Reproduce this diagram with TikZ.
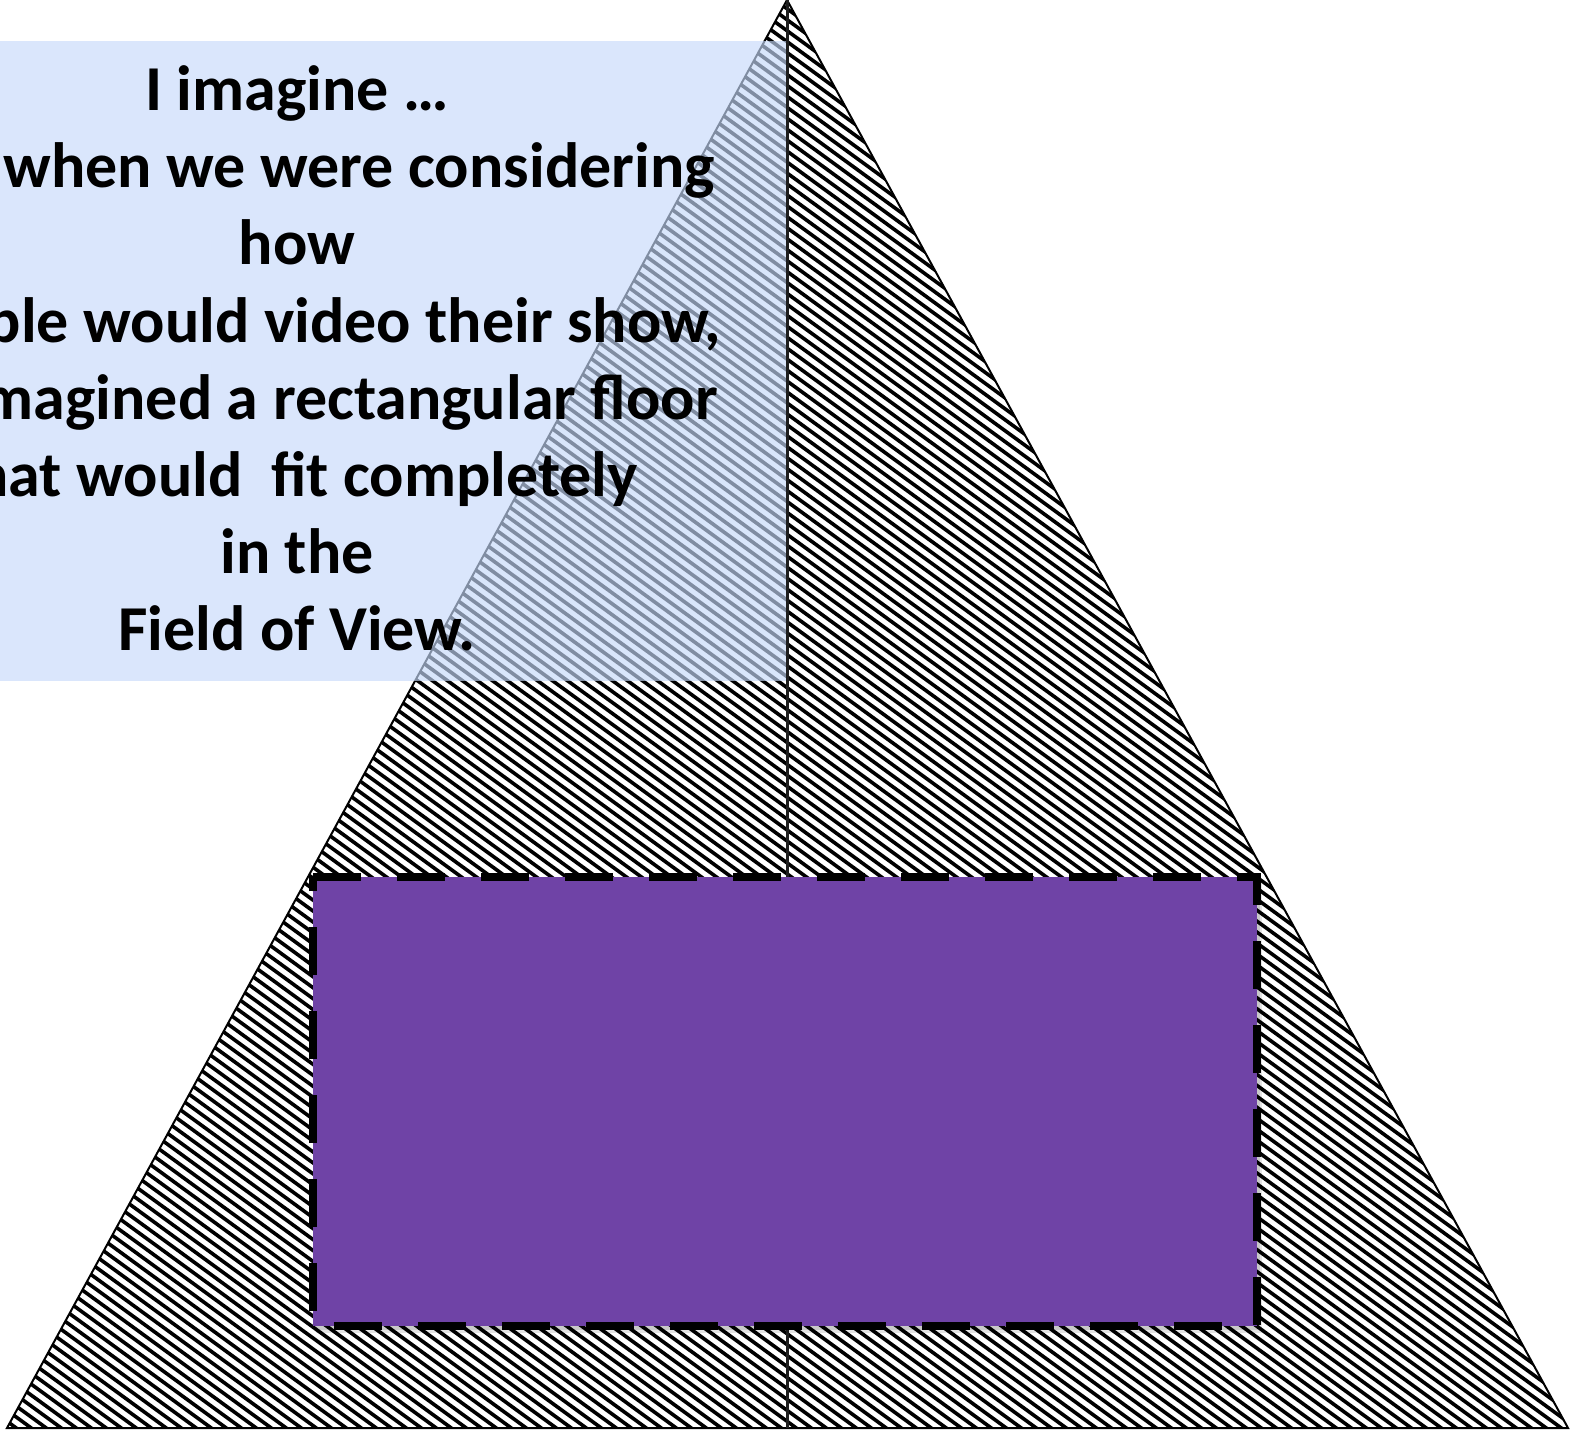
\documentclass[tikz,border=0pt]{standalone}
\usepackage{fontspec}
\setmainfont{Carlito}
\definecolor{boxblue}{RGB}{198,217,250}
\definecolor{floorpurple}{RGB}{111,67,166}
\definecolor{axisgray}{RGB}{30,30,30}
\tikzset{
  txt/.style={font=\fontsize{64}{77}\selectfont\bfseries, inner sep=0pt, anchor=base},
  txtr/.style={txt, anchor=base east},
  hatchline/.style={line width=3.6pt},
}
\begin{document}
\begin{tikzpicture}[x=1pt,y=-1pt]
\useasboundingbox (0,0) rectangle (1579,1431);
\coordinate (apex) at (787,0);
\coordinate (bl) at (7,1428);
\coordinate (br) at (1568,1428);
\coordinate (bm) at (787,1428);
% field of view triangle, hatched
\fill[white] (apex) -- (br) -- (bl) -- cycle;
\begin{scope}
\clip (apex) -- (br) -- (bl) -- cycle;
\foreach \c in {-2000,-1985,...,1600}
  \draw[hatchline] (\c,0) -- (\c+1959,1430);
\end{scope}
\draw[line width=2pt, line join=miter] (apex) -- (br) -- (bl) -- cycle;
% text box
\fill[boxblue, fill opacity=0.65] (0,41) rectangle (787,681);
% centre axis
\draw[axisgray, line width=3pt] (apex) -- (bm);
% text
\begin{scope}
\clip (0,0) rectangle (1579,1431);
\node[txt] (l1) at (297,111) {I imagine …};
\node[txtr] (l2) at (715,188) {when we were considering};
\node[txt] (l3) at (297,265) {how};
\node[txtr] (l4) at (721,342) {ple would video their show,};
\node[txtr] (l5) at (718,419) {magined a rectangular floor};
\node[txtr] (l6) at (638,496) {hat would~~fit completely};
\node[txt] (l7) at (297,573) {in the};
\node[txt] (l8) at (297,650) {Field of View.};
\end{scope}
% floor rectangle with soft shadow
\fill[black, opacity=0.10] (316,881) rectangle (1262,1333);
\fill[black, opacity=0.12] (315,880) rectangle (1260,1330);
\fill[floorpurple] (313,877) rectangle (1257,1326);
\draw[line width=8pt, dash pattern=on 48pt off 36pt, line cap=butt, line join=miter]
  (313,877) -- (1257,877) -- (1257,1326) -- (313,1326) -- cycle;
\end{tikzpicture}
\end{document}
